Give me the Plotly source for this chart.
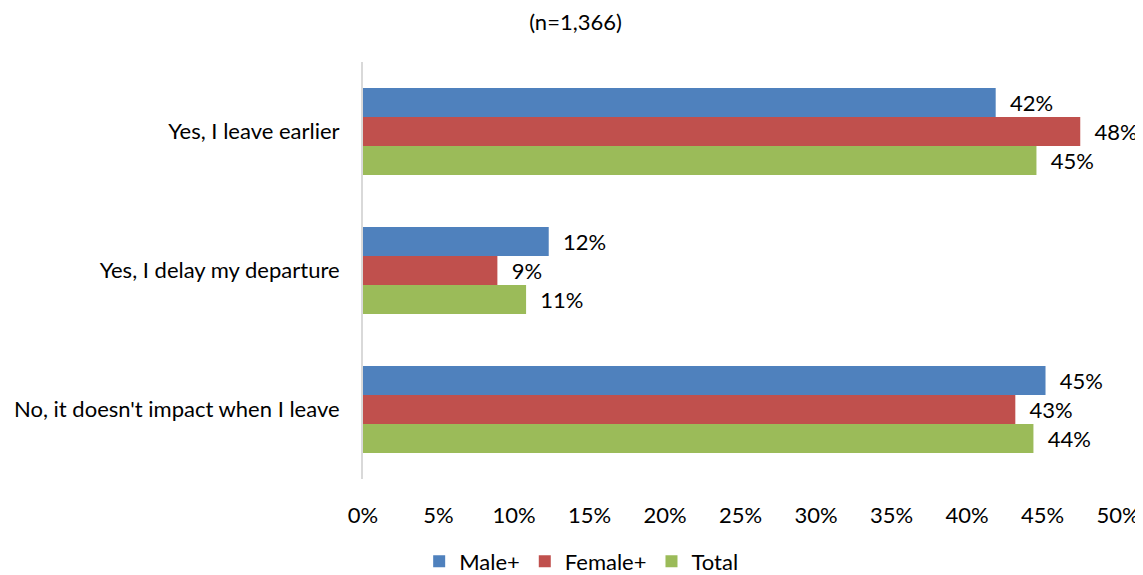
import plotly.graph_objects as go

categories = ["Yes, I leave earlier", "Yes, I delay my departure", "No, it doesn't impact when I leave"]
series_names = ["Male+", "Female+", "Total"]
male = [41.9, 12.3, 45.2]
female = [47.5, 8.9, 43.2]
total = [44.6, 10.8, 44.4]
colors = ["#4F81BD", "#C0504D", "#9BBB59"]
tick_vals = [0, 5, 10, 15, 20, 25, 30, 35, 40, 45, 50]
tick_text = [f"{v}%" for v in tick_vals]

FONT = "Lato, 'Open Sans', sans-serif"
FS = 22

fig = go.Figure()
for name, vals, col in zip(series_names, [male, female, total], colors):
    fig.add_trace(go.Bar(
        name=name, y=categories, x=vals, orientation="h",
        marker=dict(color=col, line=dict(width=0)),
        text=[f"{round(v)}%" for v in vals],
        texttemplate="  %{text}",
        textposition="outside",
        textfont=dict(size=FS, color="#000000", family=FONT),
        cliponaxis=False,
    ))

fig.update_layout(
    barmode="group",
    bargap=0.374,
    bargroupgap=0,
    width=1135, height=567,
    margin=dict(l=355, r=25, t=54, b=96, autoexpand=False),
    paper_bgcolor="white", plot_bgcolor="white",
    font=dict(family=FONT, size=FS, color="#000000"),
    title=dict(text="(n=1,366)", x=0.5, xanchor="center", y=0.974, yanchor="middle",
               font=dict(size=FS, family=FONT, color="#000000")),
    legend=dict(orientation="h", xref="container", yref="container", x=0.505, xanchor="center",
                y=0.024, yanchor="middle",
                font=dict(size=FS, family=FONT), itemwidth=30, traceorder="normal"),
)
fig.update_xaxes(range=[0, 50], tickvals=tick_vals, ticktext=tick_text, showgrid=False,
                 zeroline=False, showline=False, ticks="", tickfont=dict(size=FS, family=FONT),
                 ticklabelstandoff=21, automargin=False)
fig.update_yaxes(autorange="reversed", showgrid=False, showline=True, linecolor="#D9D9D9",
                 linewidth=2, ticks="", ticklabelstandoff=17, tickfont=dict(size=FS, family=FONT),
                 automargin=False)

fig.write_html("out.html")
